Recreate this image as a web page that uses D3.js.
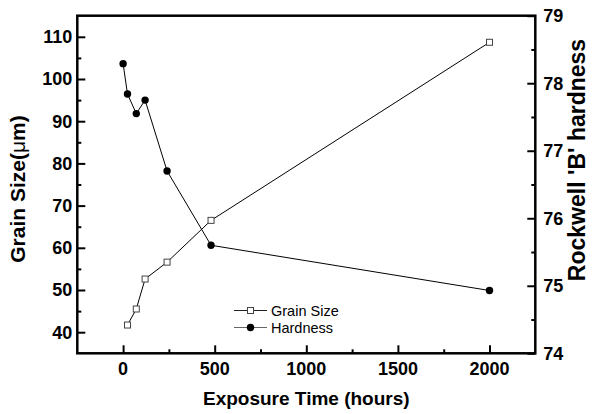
<!DOCTYPE html>
<html>
<head>
<meta charset="utf-8">
<script src="https://cdn.jsdelivr.net/npm/d3@7"></script>
<style>
  body { margin: 0; background: #fff; }
  svg { display: block; font-family: "Liberation Sans", Arial, sans-serif; }
</style>
</head>
<body>
<svg id="chart"></svg>
<script>
// exposure times (hours)
let grainHours = [24, 72, 120, 240, 480, 2000]
let hardnessHours = [0, 24, 72, 120, 240, 480, 2000]

// grain size (um), left axis
let grainSize = [41.7, 45.5, 52.6, 56.6, 66.5, 108.7]
// Rockwell 'B' hardness, right axis
let hardness = [78.29, 77.84, 77.55, 77.75, 76.70, 75.6, 74.93]

// tick values
let xTicks = [0, 500, 1000, 1500, 2000]
let xMinor = [250, 750, 1250, 1750]
let leftTicks = [40, 50, 60, 70, 80, 90, 100, 110]
let leftMinor = [45, 55, 65, 75, 85, 95, 105]
let rightTicks = [74, 75, 76, 77, 78, 79]
let rightMinor = [74.5, 75.5, 76.5, 77.5, 78.5]

let width = 592
let height = 414
let pad_left = 77.3
let pad_right = 56.7
let pad_top = 15.7
let pad_bottom = 60.7

let svg = d3.select('#chart')
    .attr('width', width)
    .attr('height', height)

let xScale = d3.scaleLinear().domain([-250, 2250]).range([pad_left, width - pad_right])
let yLeft = d3.scaleLinear().domain([35, 115]).range([height - pad_bottom, pad_top])
let yRight = d3.scaleLinear().domain([74, 79]).range([height - pad_bottom, pad_top])

let bottomY = height - pad_bottom
let rightX = width - pad_right

// axes: ticks point inward, labels drawn separately
function axisGroup(axis, transform) {
    let g = svg.append('g').attr('transform', transform).call(axis)
    g.select('.domain').remove()
    g.selectAll('.tick line').attr('stroke', '#000').attr('stroke-width', 2)
    g.selectAll('.tick text').remove()
    return g
}

axisGroup(d3.axisTop(xScale).tickValues(xTicks).tickSize(8), `translate(0,${bottomY})`)
axisGroup(d3.axisTop(xScale).tickValues(xMinor).tickSize(4), `translate(0,${bottomY})`)
axisGroup(d3.axisRight(yLeft).tickValues(leftTicks).tickSize(8), `translate(${pad_left},0)`)
axisGroup(d3.axisRight(yLeft).tickValues(leftMinor).tickSize(4), `translate(${pad_left},0)`)
axisGroup(d3.axisLeft(yRight).tickValues(rightTicks).tickSize(8), `translate(${rightX},0)`)
axisGroup(d3.axisLeft(yRight).tickValues(rightMinor).tickSize(4), `translate(${rightX},0)`)

// frame
svg.append('rect')
    .attr('x', pad_left)
    .attr('y', pad_top)
    .attr('width', rightX - pad_left)
    .attr('height', bottomY - pad_top)
    .attr('fill', 'none')
    .attr('stroke', '#000')
    .attr('stroke-width', 2.5)

// tick labels
svg.append('g').selectAll('text')
    .data(xTicks)
    .join('text')
    .attr('x', d => xScale(d))
    .attr('y', bottomY + 22)
    .attr('text-anchor', 'middle')
    .attr('font-size', 18)
    .attr('font-weight', 'bold')
    .text(d => d)

svg.append('g').selectAll('text')
    .data(leftTicks)
    .join('text')
    .attr('x', pad_left - 5)
    .attr('y', d => yLeft(d))
    .attr('dy', '0.36em')
    .attr('text-anchor', 'end')
    .attr('font-size', 18)
    .attr('font-weight', 'bold')
    .text(d => d)

svg.append('g').selectAll('text')
    .data(rightTicks)
    .join('text')
    .attr('x', rightX + 8)
    .attr('y', d => yRight(d))
    .attr('dy', '0.36em')
    .attr('text-anchor', 'start')
    .attr('font-size', 18)
    .attr('font-weight', 'bold')
    .text(d => d)

// axis titles
svg.append('text')
    .attr('x', (pad_left + rightX) / 2)
    .attr('y', 405)
    .attr('text-anchor', 'middle')
    .attr('font-size', 19)
    .attr('font-weight', 'bold')
    .text('Exposure Time (hours)')

let leftTitle = svg.append('text')
    .attr('transform', `translate(25,189) rotate(-90)`)
    .attr('text-anchor', 'middle')
    .attr('font-size', 21)
    .attr('font-weight', 'bold')
leftTitle.append('tspan').text('Grain Size(')
leftTitle.append('tspan').attr('font-weight', 'normal').text('μ')
leftTitle.append('tspan').text('m)')

svg.append('text')
    .attr('transform', `translate(585,160) rotate(-90)`)
    .attr('text-anchor', 'middle')
    .attr('font-size', 23)
    .attr('font-weight', 'bold')
    .text("Rockwell 'B' hardness")

// series
let grainData = grainHours.map((h, i) => [h, grainSize[i]])
let hardData = hardnessHours.map((h, i) => [h, hardness[i]])

svg.append('path')
    .datum(hardData)
    .attr('fill', 'none')
    .attr('stroke', '#000')
    .attr('stroke-width', 1)
    .attr('d', d3.line().x(d => xScale(d[0])).y(d => yRight(d[1])))

svg.append('path')
    .datum(grainData)
    .attr('fill', 'none')
    .attr('stroke', '#000')
    .attr('stroke-width', 1)
    .attr('d', d3.line().x(d => xScale(d[0])).y(d => yLeft(d[1])))

svg.append('g').selectAll('circle')
    .data(hardData)
    .join('circle')
    .attr('cx', d => xScale(d[0]))
    .attr('cy', d => yRight(d[1]))
    .attr('r', 3.7)
    .attr('fill', '#000')

let sq = 6
svg.append('g').selectAll('rect')
    .data(grainData)
    .join('rect')
    .attr('x', d => xScale(d[0]) - sq / 2)
    .attr('y', d => yLeft(d[1]) - sq / 2)
    .attr('width', sq)
    .attr('height', sq)
    .attr('fill', '#fff')
    .attr('stroke', '#444')
    .attr('stroke-width', 1)

// legend
let legend = svg.append('g')
let legendItems = ['Grain Size', 'Hardness']
legendItems.forEach((name, i) => {
    let y = 310.5 + i * 17
    legend.append('line')
        .attr('x1', 234).attr('x2', 267)
        .attr('y1', y).attr('y2', y)
        .attr('stroke', i === 0 ? '#222' : '#666')
        .attr('stroke-width', 1)
    if (i === 0) {
        legend.append('rect')
            .attr('x', 250.5 - 3).attr('y', y - 3)
            .attr('width', 6).attr('height', 6)
            .attr('fill', '#fff').attr('stroke', '#444')
    } else {
        legend.append('circle')
            .attr('cx', 250.5).attr('cy', y).attr('r', 3.7).attr('fill', '#000')
    }
    legend.append('text')
        .attr('x', 271)
        .attr('y', y + 5)
        .attr('font-size', 14.5)
        .text(name)
})
</script>
</body>
</html>
